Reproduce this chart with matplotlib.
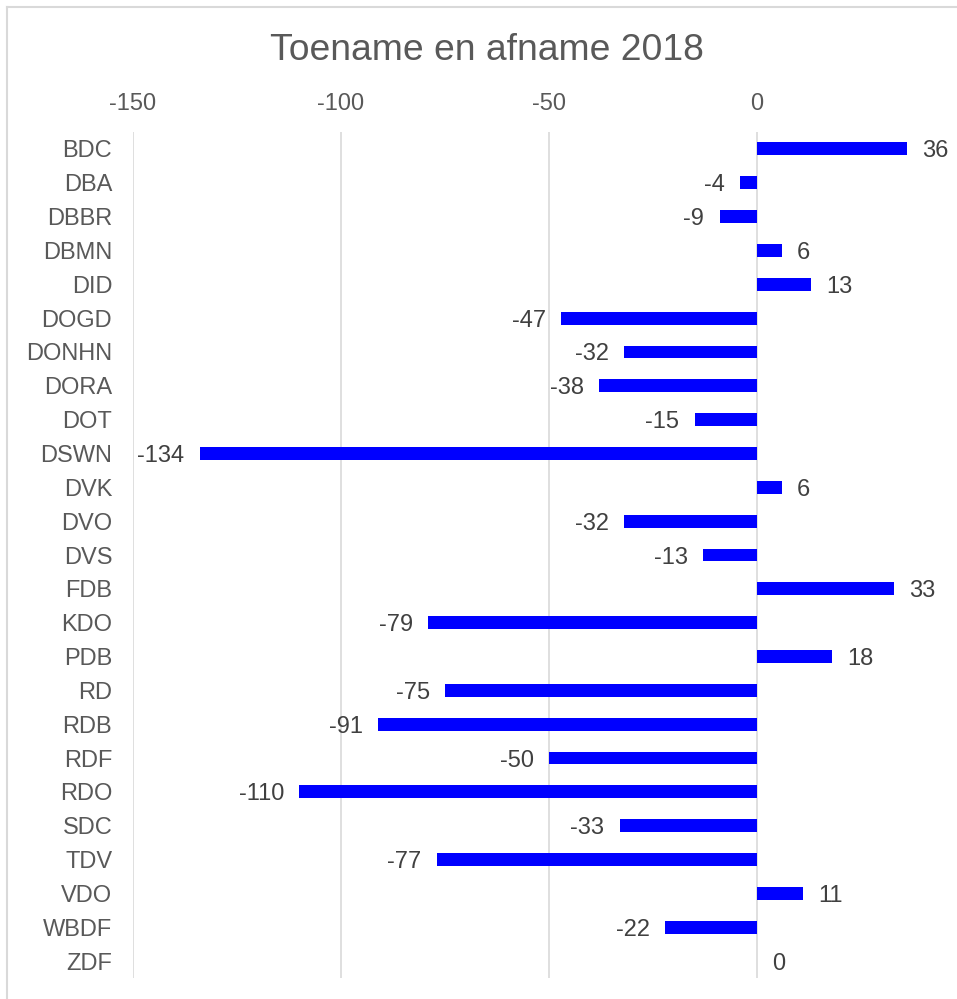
import matplotlib.pyplot as plt
from matplotlib.lines import Line2D

plt.rcParams['font.family'] = ['Liberation Sans', 'DejaVu Sans']

categories = ['BDC', 'DBA', 'DBBR', 'DBMN', 'DID', 'DOGD', 'DONHN', 'DORA', 'DOT',
              'DSWN', 'DVK', 'DVO', 'DVS', 'FDB', 'KDO', 'PDB', 'RD', 'RDB', 'RDF',
              'RDO', 'SDC', 'TDV', 'VDO', 'WBDF', 'ZDF']
values = [36, -4, -9, 6, 13, -47, -32, -38, -15, -134, 6, -32, -13, 33, -79, 18,
          -75, -91, -50, -110, -33, -77, 11, -22, 0]
ticks = [-150, -100, -50, 0]

fig = plt.figure(figsize=(9.57, 9.99), dpi=100)
ax = fig.add_axes([133 / 957, 21 / 999, 1 - 133 / 957, (978 - 132) / 999])

ypos = list(range(len(categories)))
ax.barh(ypos, values, height=0.38, color='#0000ff', zorder=3)

# data labels
for y, v in zip(ypos, values):
    if v >= 0:
        ax.annotate(str(v), (v, y), xytext=(11, 0), textcoords='offset points',
                    ha='left', va='center_baseline', fontsize=17, color='#404040')
    else:
        ax.annotate(str(v), (v, y), xytext=(-11, 0), textcoords='offset points',
                    ha='right', va='center_baseline', fontsize=17, color='#404040')

ax.set_xlim(-150, (957 - 757) / 4.16)
ax.set_ylim(len(categories) - 0.5, -0.5)
ax.set_xticks(ticks)
ax.set_xticklabels([str(t) for t in ticks])
ax.set_yticks(ypos)
ax.set_yticklabels(categories)
ax.xaxis.tick_top()
ax.tick_params(axis='x', length=0, pad=12, labelsize=17, labelcolor='#595959')
ax.tick_params(axis='y', length=0, pad=15, labelsize=17, labelcolor='#595959')
ax.grid(axis='x', color='#d9d9d9', linewidth=1.2, zorder=0)
for s in ax.spines.values():
    s.set_visible(False)

fig.text(0.509, 1 - 50 / 999, 'Toename en afname 2018', ha='center', va='center',
         fontsize=26.8, color='#595959')

# outer chart border (cropped on right and bottom)
fig.add_artist(Line2D([7 / 957, 7 / 957], [0, 1 - 7 / 999], color='#d9d9d9', lw=1.5,
                      transform=fig.transFigure))
fig.add_artist(Line2D([7 / 957, 1], [1 - 7 / 999, 1 - 7 / 999], color='#d9d9d9', lw=1.5,
                      transform=fig.transFigure))

fig.savefig('out.png', dpi=100)
